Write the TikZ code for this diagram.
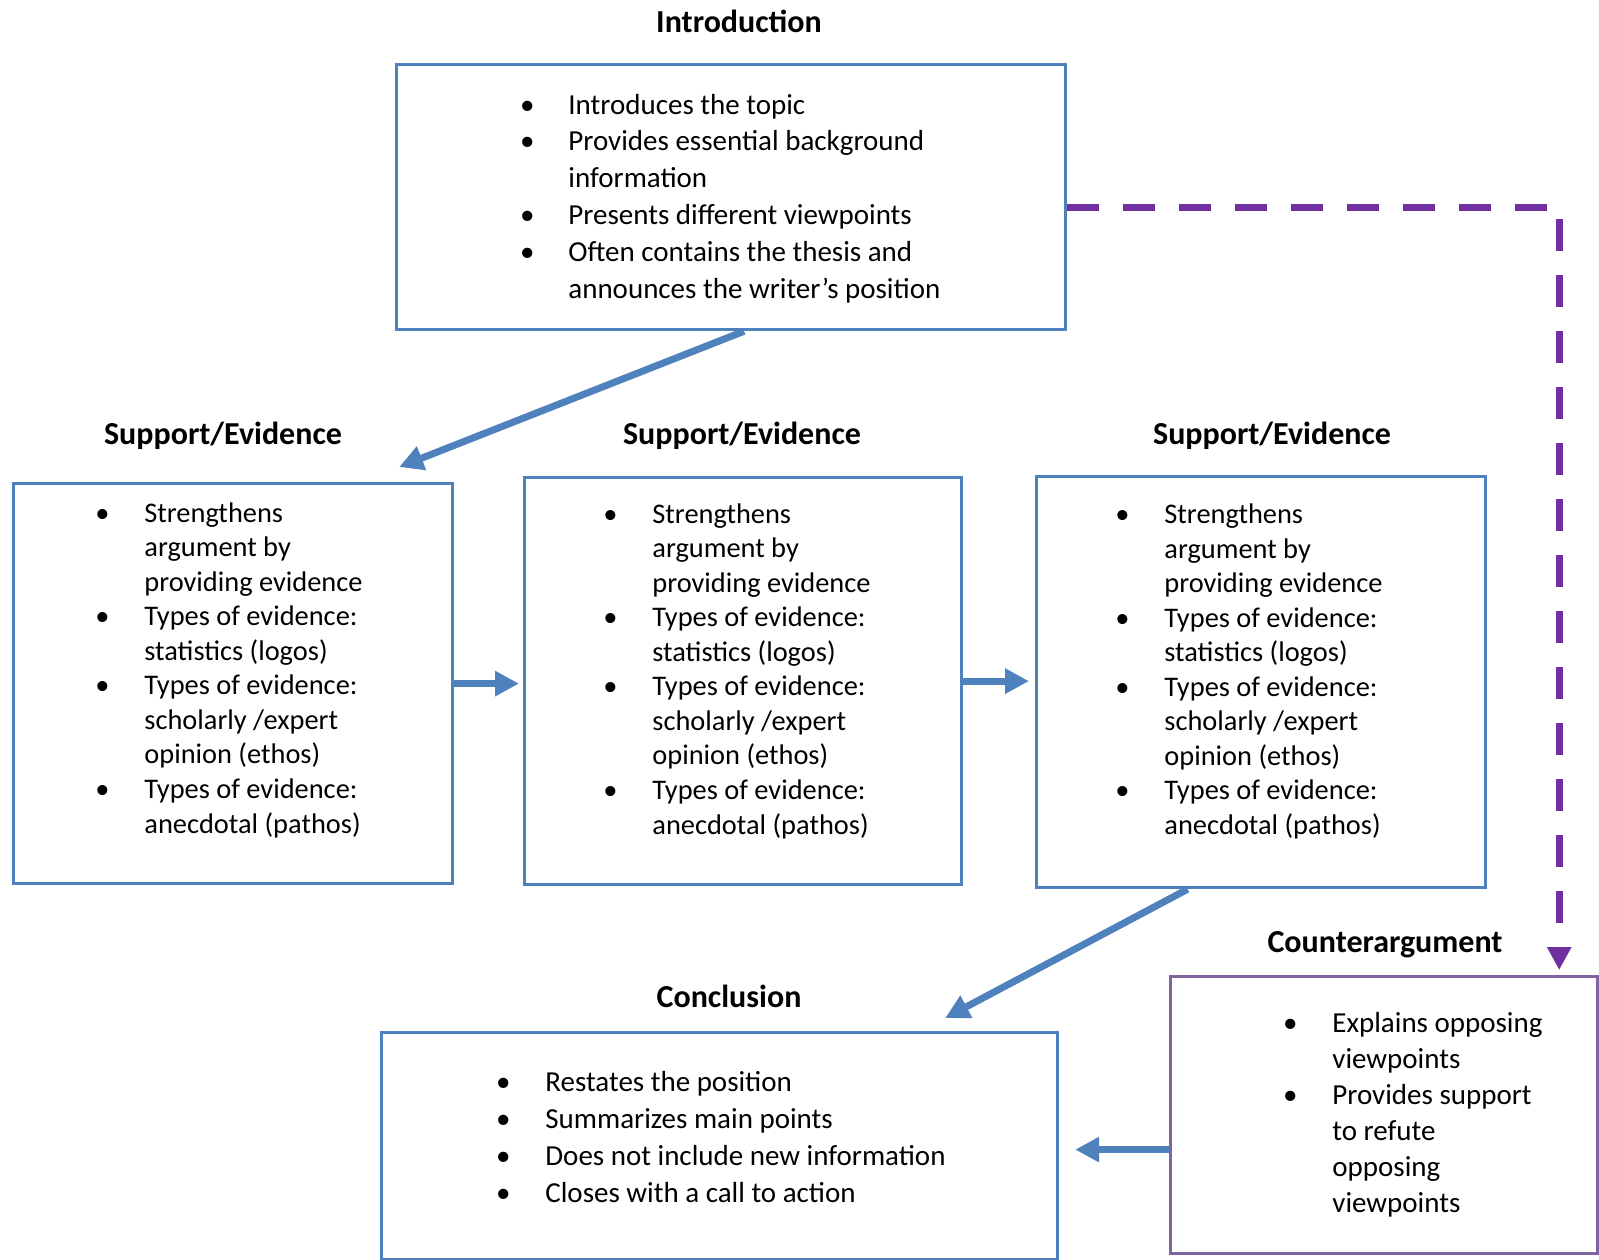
\documentclass[tikz,border=0pt]{standalone}
\usepackage{fontspec}
\setmainfont{Carlito}
\usetikzlibrary{arrows.meta}

\definecolor{boxblue}{HTML}{4F81BD}
\definecolor{boxpurple}{HTML}{8064A2}
\definecolor{dashpurple}{HTML}{7030A0}

\newcommand{\bul}{\makebox[0pt][c]{\textbullet}}
\newcommand{\bulletrows}[2]{\begin{tabular}[t]{@{}p{#1}@{}l@{}}#2\end{tabular}}
\newcommand{\evidencerows}{%
\bul & Strengthens\\
 & argument by\\
 & providing evidence\\
\bul & Types of evidence:\\
 & statistics (logos)\\
\bul & Types of evidence:\\
 & scholarly /expert\\
 & opinion (ethos)\\
\bul & Types of evidence:\\
 & anecdotal (pathos)}

\begin{document}
\begin{tikzpicture}[x=0.5pt, y=-0.5pt]

\tikzstyle{every node} = [inner sep=0pt]
\tikzstyle{box} = [rectangle, draw=boxblue, line width=1.6pt, anchor=north west]
\tikzstyle{cbox} = [box, draw=boxpurple]
\tikzstyle{title} = [anchor=base, font=\fontsize{16}{19}\selectfont\bfseries]
\tikzstyle{list} = [anchor=base west, font=\fontsize{14.5}{18.4}\selectfont]
\tikzstyle{slist} = [list, font=\fontsize{14.2}{17.28}\selectfont]
\tikzstyle{flow} = [boxblue, line width=3.5pt, -{Triangle[length=12pt,width=12pt]}]
\tikzstyle{back} = [dashpurple, line width=3.5pt, dash pattern=on 16pt off 12pt, -{Triangle[length=11.5pt,width=11.5pt]}]

\useasboundingbox (0,0) rectangle (1599,1259);

\node[title] (introtitle) at (739,32) {Introduction};
\node[box, minimum width=334.5pt, minimum height=132.5pt] (intro) at (395,63) {};
\node[list] (introtext) at (527,114) {\bulletrows{20.5pt}{%
\bul & Introduces the topic\\
\bul & Provides essential background\\
 & information\\
\bul & Presents different viewpoints\\
\bul & Often contains the thesis and\\
 & announces the writer’s position}};

\node[title] (sup1title) at (223,444) {Support/Evidence};
\node[title] (sup2title) at (742,444) {Support/Evidence};
\node[title] (sup3title) at (1272,444) {Support/Evidence};

\node[box, minimum width=219.5pt, minimum height=200pt] (sup1) at (12,482) {};
\node[box, minimum width=218.5pt, minimum height=203.5pt] (sup2) at (523,476) {};
\node[box, minimum width=224.5pt, minimum height=205.5pt] (sup3) at (1035,475) {};

\node[slist] (sup1text) at (102,522) {\bulletrows{21pt}{\evidencerows}};
\node[slist] (sup2text) at (610,523) {\bulletrows{21pt}{\evidencerows}};
\node[slist] (sup3text) at (1122,523.5) {\bulletrows{21pt}{\evidencerows}};

\node[title] (concltitle) at (729,1007) {Conclusion};
\node[box, minimum width=338pt, minimum height=113.5pt] (concl) at (380,1031) {};
\node[list, font=\fontsize{14.5}{18.5}\selectfont] (concltext) at (503,1091) {\bulletrows{21pt}{%
\bul & Restates the position\\
\bul & Summarizes main points\\
\bul & Does not include new information\\
\bul & Closes with a call to action}};

\node[title] (countertitle) at (1385,952) {Counterargument};
\node[cbox, minimum width=213.5pt, minimum height=138.5pt] (counter) at (1169,975) {};
\node[list, font=\fontsize{14.5}{18}\selectfont] (countertext) at (1290,1032) {\bulletrows{21pt}{%
\bul & Explains opposing\\
 & viewpoints\\
\bul & Provides support\\
 & to refute\\
 & opposing\\
 & viewpoints}};

\draw[flow] ([xshift=6.5pt]intro.south) -- ([xshift=-27.5pt,yshift=7.5pt]sup1.north east);
\draw[flow, shorten >=2pt] (sup1.east) -- (sup1.east -| sup2.west);
\draw[flow, shorten >=3pt] (sup2.east) -- (sup2.east -| sup3.west);
\draw[flow] ([xshift=-36.75pt]sup3.south) -- ([xshift=-57pt,yshift=6.5pt]concl.north east);
\draw[flow] ([yshift=-17.25pt]counter.west) -- ([xshift=8pt,yshift=-1.75pt]concl.east);
\draw[back] ([yshift=-5pt]intro.east) -| ([xshift=-20pt,yshift=2.5pt]counter.north east);
\end{tikzpicture}
\end{document}
